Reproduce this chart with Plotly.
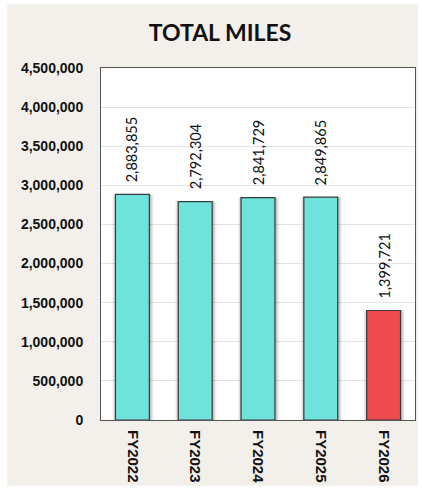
import plotly.graph_objects as go

# Fiscal-year mileage totals
years = ["FY2022", "FY2023", "FY2024", "FY2025", "FY2026"]
miles = [2883855, 2792304, 2841729, 2849865, 1399721]
bar_colors = ["#6ee3dc", "#6ee3dc", "#6ee3dc", "#6ee3dc", "#ef4a50"]
y_ticks = [0, 500000, 1000000, 1500000, 2000000, 2500000, 3000000, 3500000, 4000000, 4500000]

W, H = 422, 489
L, R, T, B = 101, 6, 68, 67
pw, ph = W - L - R, H - T - B

def px_x(p):
    return (p - L) / pw

def px_y(p):
    return 1 - (p - T) / ph

fig = go.Figure()

# soft drop shadow behind each bar
for w, a in [(0.66, 0.05), (0.62, 0.08), (0.58, 0.13)]:
    fig.add_trace(go.Bar(
        x=years, y=miles, width=w, offset=-w / 2 + 0.01,
        marker=dict(color=f"rgba(0,0,0,{a})", line=dict(width=0)),
        hoverinfo="skip", showlegend=False,
    ))

fig.add_trace(go.Bar(
    x=years, y=miles, width=0.54, offset=-0.27,
    marker=dict(color=bar_colors, line=dict(color="#3a3a3a", width=1.2)),
    showlegend=False,
))

# value labels above bars
for yr, v in zip(years, miles):
    fig.add_annotation(
        x=yr, y=v, text=f"{v:,}", textangle=-90, showarrow=False,
        yanchor="bottom", yshift=10,
        font=dict(family="Lato, Open Sans, sans-serif", size=14.5, color="#111111"),
    )

# beige panel behind the chart
fig.add_shape(type="rect", xref="paper", yref="paper", layer="below",
              x0=px_x(7), x1=px_x(419), y0=px_y(488), y1=px_y(4),
              fillcolor="#f3f0eb", line=dict(width=0))
fig.add_shape(type="rect", xref="paper", yref="paper", layer="below",
              x0=0, x1=1, y0=0, y1=1,
              fillcolor="#ffffff", line=dict(width=0))

fig.update_layout(
    width=W, height=H,
    margin=dict(l=L, r=R, t=T, b=B),
    paper_bgcolor="#ffffff",
    plot_bgcolor="rgba(0,0,0,0)",
    barmode="overlay",
    title=dict(text="<b>TOTAL MILES</b>", x=220 / W, xref="container", y=1 - 33 / H,
               yanchor="middle", xanchor="center",
               font=dict(family="Lato, sans-serif", size=23, color="#111111")),
    xaxis=dict(
        type="category", tickangle=90, showgrid=False,
        tickfont=dict(family="Liberation Sans, Arial, sans-serif", size=15, color="#111111", weight="bold"),
        showline=True, linecolor="#555555", linewidth=1, mirror=True,
        ticks="", ticklabelstandoff=6,
    ),
    yaxis=dict(
        range=[0, 4500000], tickvals=y_ticks, ticktext=[f"{t:,}" for t in y_ticks],
        showgrid=True, gridcolor="#e3e3e3", gridwidth=1, zeroline=False,
        tickfont=dict(family="Liberation Sans, Arial, sans-serif", size=14, color="#111111", weight="bold"),
        showline=True, linecolor="#555555", linewidth=1, mirror=True,
        ticks="", ticklabelstandoff=14,
    ),
)

fig.write_html("out.html")
